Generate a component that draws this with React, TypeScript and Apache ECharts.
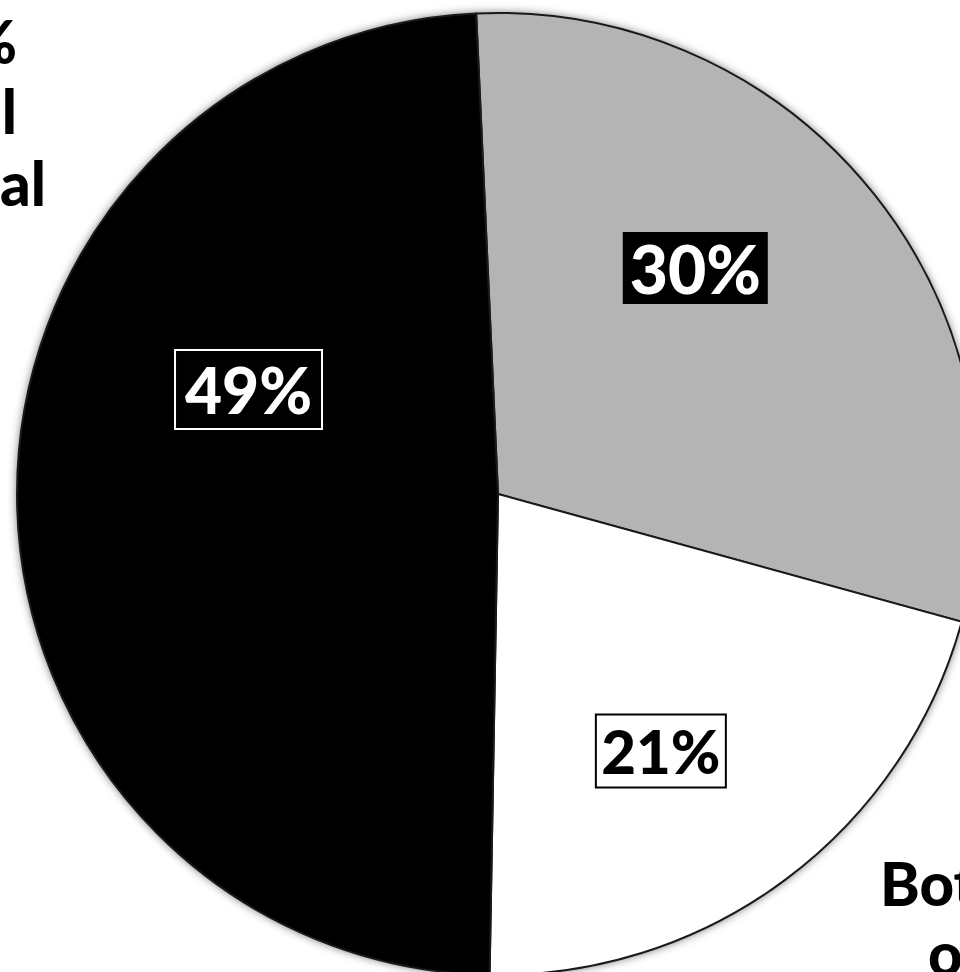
import React, { useEffect, useRef } from "react";
import * as echarts from "echarts";

// Data
const categories = ["Segment B", "Segment C", "Segment A"];
const values = [30, 21, 49];
const sliceColors = ["#b4b4b4", "#ffffff", "#000000"];
const outerLeftLines = ["%", "l", "al"];
const outerRightLines = ["Bot", "o"];

export default function App() {
  const ref = useRef<HTMLDivElement>(null);

  useEffect(() => {
    const chart = echarts.init(ref.current!, null, { renderer: "svg" });
    const font = "Lato, 'Open Sans', sans-serif";

    const labelStyles = [
      { backgroundColor: "#000", color: "#fff", borderColor: "#000", borderWidth: 0, width: 145, lineHeight: 72, fontSize: 66 },
      { backgroundColor: "#fff", color: "#000", borderColor: "#000", borderWidth: 2, width: 128, lineHeight: 71, fontSize: 60 },
      { backgroundColor: "#000", color: "#fff", borderColor: "#fff", borderWidth: 2, width: 145, lineHeight: 77, fontSize: 64 },
    ];
    const labelShift = [
      [7, -74],
      [17, 62],
      [-6, -108],
    ];

    const total = values.reduce((a, b) => a + b, 0);

    const outerText = (text: string, x: number, y: number, align: string) => ({
      type: "text",
      x,
      y,
      style: {
        text,
        fill: "#000",
        font: `900 60px ${font}`,
        align,
        verticalAlign: "middle",
      },
    });

    chart.setOption({
      animation: false,
      backgroundColor: "#fff",
      series: [
        {
          type: "pie",
          silent: true,
          z: 1,
          center: [498, 494],
          radius: 481,
          label: { show: false },
          labelLine: { show: false },
          itemStyle: {
            color: "#fff",
            shadowBlur: 10,
            shadowColor: "rgba(0,0,0,0.6)",
          },
          data: [{ name: "total", value: total }],
        },
        {
          type: "pie",
          z: 2,
          center: [498, 494],
          radius: 481,
          startAngle: 92.6,
          clockwise: true,
          avoidLabelOverlap: false,
          labelLine: { show: false },
          itemStyle: { borderColor: "#1a1a1a", borderWidth: 2 },
          label: {
            show: true,
            position: "inside",
            fontFamily: font,
            fontWeight: 900,
            fontSize: 66,
            align: "center",
            padding: 0,
            overflow: "none",
            formatter: (p: any) => `${p.value}%`,
          },
          labelLayout: (p: any) => ({ dx: labelShift[p.dataIndex][0], dy: labelShift[p.dataIndex][1] }),
          data: categories.map((name, i) => ({
            name,
            value: values[i],
            itemStyle: { color: sliceColors[i] },
            label: { ...labelStyles[i], overflow: "none" },
          })),
        },
      ],
      graphic: [
        outerText(outerLeftLines[0], 17, 41, "right"),
        outerText(outerLeftLines[1], 17, 111, "right"),
        outerText(outerLeftLines[2], 46, 183, "right"),
        outerText(outerRightLines[0], 880, 883, "left"),
        outerText(outerRightLines[1], 928, 953, "left"),
      ],
    });

    return () => chart.dispose();
  }, []);

  return (
    <div
      ref={ref}
      style={{ position: "fixed", left: 0, top: 0, width: 960, height: 972, background: "#fff" }}
    />
  );
}
